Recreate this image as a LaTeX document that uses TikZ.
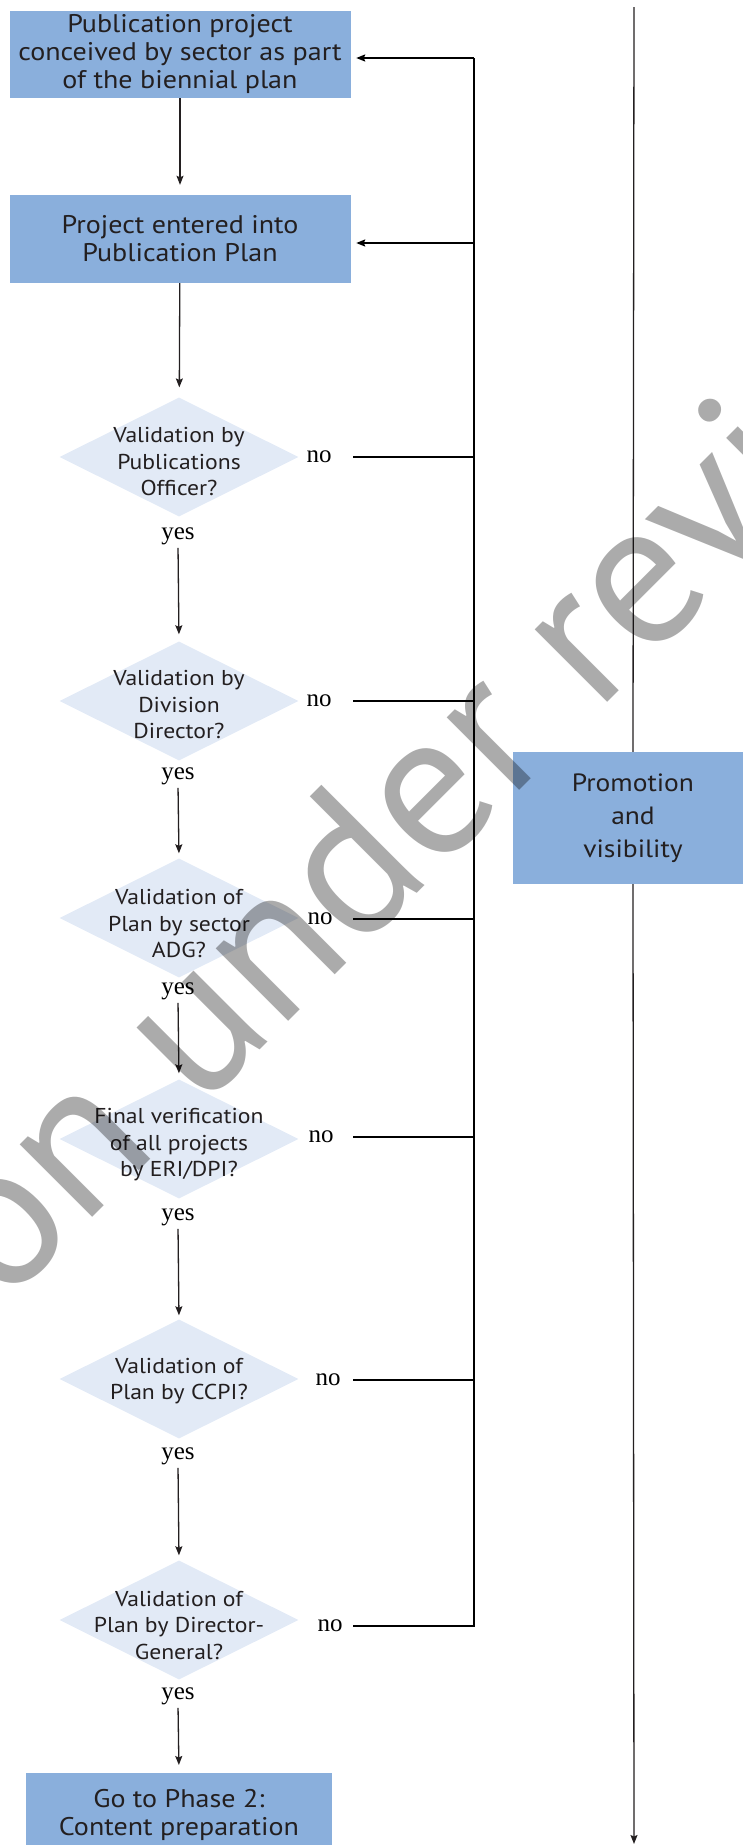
\documentclass[tikz,border=0pt]{standalone}
\usepackage{fontspec}
\setmainfont{PT Sans}[FakeStretch=1.1]
\newfontfamily\stampfont{PT Sans}
\newfontfamily\answerfont{Liberation Serif}
\usetikzlibrary{shapes.geometric,arrows.meta}

\definecolor{boxblue}{RGB}{138,175,220}
\definecolor{diafill}{RGB}{226,234,246}
\definecolor{ink}{RGB}{35,31,32}
\definecolor{wmgray}{RGB}{171,171,171}

\tikzset{
  stepbox/.style={rectangle, fill=boxblue, text=ink, align=center, inner sep=0pt,
    font=\fontsize{25.5}{28}\selectfont},
  decision/.style={diamond, fill=diafill, inner sep=0pt,
    minimum width=239pt, minimum height=119pt},
  question/.style={text=ink, align=center, inner sep=0pt, font=\fontsize{21.5}{26.5}\selectfont},
  answer/.style={inner sep=0pt, text=black, font=\answerfont\fontsize{25}{28}\selectfont},
  tip/.style={-{Stealth[length=9pt,width=7pt,inset=1.5pt]}},
  flow/.style={draw=ink, line width=1.3pt, tip},
  loopline/.style={draw=black, line width=2pt},
  loopback/.style={draw=black, line width=2pt, tip},
  rail/.style={draw=ink, line width=1.3pt},
  watermark/.style={text=wmgray, inner sep=0pt, font=\stampfont\fontsize{205}{205}\selectfont},
}

\begin{document}
\begin{tikzpicture}[x=1pt,y=-1pt]
\useasboundingbox (0,0) rectangle (742,1845);

% main column: boxes
\node[stepbox, minimum width=341pt, minimum height=87pt] (conceive) at (180,54.5)
  {Publication project\\conceived by sector as part\\of the biennial plan};
\node[stepbox, minimum width=341pt, minimum height=88pt] (enter) at (180,239)
  {Project entered into\\Publication Plan};
\node[stepbox, minimum width=306pt, minimum height=84pt, anchor=north] (phase2) at (179,1773)
  {Go to Phase 2:\\Content preparation};

% main column: decisions and their questions
\node[decision] (d1) at (179,457) {};
\node[decision] (d2) at (179,701) {};
\node[decision] (d3) at (179,918) {};
\node[decision] (d4) at (179,1139) {};
\node[decision] (d5) at (179,1379) {};
\node[decision] (d6) at (179,1620) {};
\node[question] (q1) at ([yshift=-5pt]d1) {Validation by\\Publications\\Officer?};
\node[question] (q2) at ([yshift=-4pt]d2) {Validation by\\Division\\Director?};
\node[question] (q3) at ([yshift=-6pt]d3) {Validation of\\Plan by sector\\ADG?};
\node[question] (q4) at ([yshift=-6pt]d4) {Final verification\\of all projects\\by ERI/DPI?};
\node[question] (q5) at ([yshift=-2pt]d5) {Validation of\\Plan by CCPI?};
\node[question] (q6) at ([yshift=-5pt]d6) {Validation of\\Plan by Director-\\General?};

% side column
\node[stepbox, minimum width=240pt, minimum height=132pt,
  font=\fontsize{25}{33}\selectfont] (promo) at (633,818) {Promotion\\and\\visibility};

% answers
\node[answer] (y1) at (178,536) {yes};
\node[answer] (y2) at (178,776) {yes};
\node[answer] (y3) at (178,991) {yes};
\node[answer] (y4) at (178,1217) {yes};
\node[answer] (y5) at (178,1456) {yes};
\node[answer] (y6) at (178,1696) {yes};
\node[answer] (n1) at (319,457) {no};
\node[answer] (n2) at (319,701) {no};
\node[answer] (n3) at (320,919) {no};
\node[answer] (n4) at (321,1137) {no};
\node[answer] (n5) at (328,1380) {no};
\node[answer] (n6) at (330,1626) {no};

% forward flow
\draw[flow, shorten >=10pt] (conceive) -- (enter);
\draw[flow, shorten >=10pt] (enter) -- (d1);
\draw[flow, shorten <=3pt, shorten >=7pt] (y1.south) -- (d2.north);
\draw[flow, shorten <=3pt, shorten >=5pt] (y2.south) -- (d3.north);
\draw[flow, shorten <=3pt, shorten >=6pt] (y3.south) -- (d4.north);
\draw[flow, shorten <=3pt, shorten >=4pt] (y4.south) -- (d5.north);
\draw[flow, shorten <=3pt, shorten >=5pt] (y5.south) -- (d6.north);
\draw[flow, shorten <=3pt, shorten >=8pt] (y6.south) -- (phase2.north);

% rejection loop back to the start
\coordinate (spinetop) at (474,58);
\coordinate (spinebot) at (474,1627);
\coordinate (enterjoin) at (474,243);
\coordinate (nostart) at (353,0);
\draw[loopline] (spinetop) -- (spinebot);
\draw[loopback, shorten >=5.5pt] (spinetop) -- (spinetop -| conceive.east);
\draw[loopback, shorten >=5.5pt] (enterjoin) -- (enterjoin -| enter.east);
\foreach \n in {n1,n2,n3,n4,n5,n6}
  \draw[loopline] (\n -| nostart) -- (\n -| spinetop);

% promotion rail
\coordinate (railtop) at (634,7);
\coordinate (railbot) at (634,1845);
\draw[rail] (railtop) -- (promo.north);
\draw[rail, tip, shorten >=1pt] (promo.south) -- (railbot);

% review stamp, anchored at the start of its last word
\begin{scope}[blend mode=multiply]
  \clip (0,0) rectangle (742,1845);
  \node[watermark, rotate=45, anchor=base west] (stamp) at (596,714)
    {\llap{Version under }review};
\end{scope}
\end{tikzpicture}
\end{document}
